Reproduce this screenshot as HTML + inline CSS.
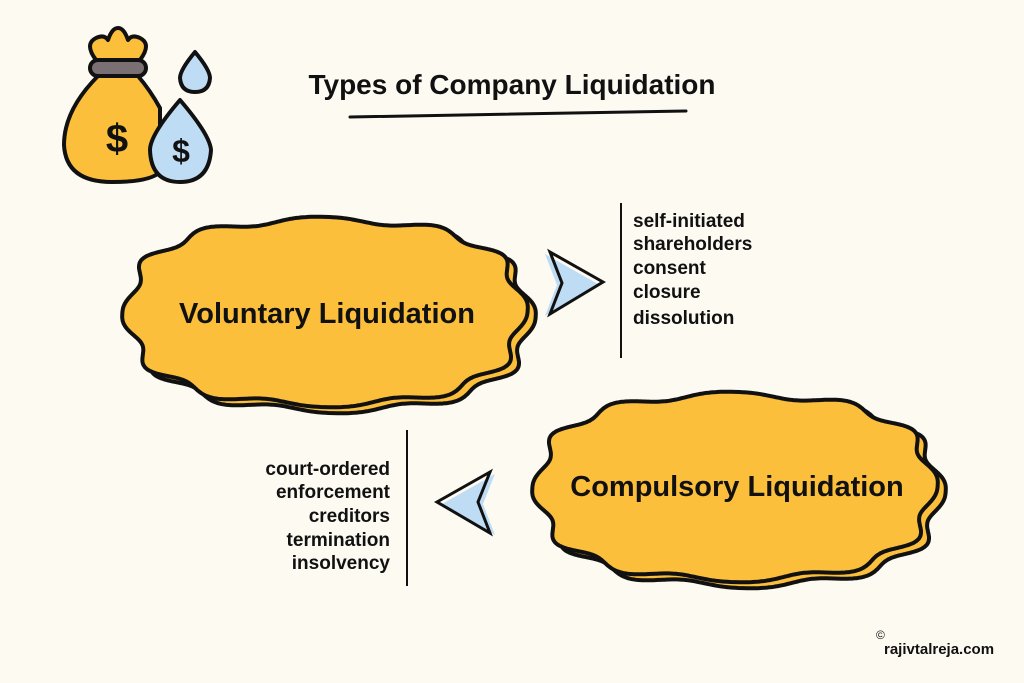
<!DOCTYPE html>
<html><head><meta charset="utf-8">
<style>
html,body{margin:0;padding:0;background:#fdfaf2;}
body{width:1024px;height:683px;position:relative;overflow:hidden;font-family:"Liberation Sans",sans-serif;}
svg{position:absolute;left:0;top:0;}
</style></head>
<body>
<svg width="1024" height="683" viewBox="0 0 1024 683" xmlns="http://www.w3.org/2000/svg">
<g stroke="#111" stroke-width="4" stroke-linejoin="round" stroke-linecap="round">
<path d="M96 60 Q84 44 96 38 Q104 34 108 40 Q112 28 118 28 Q124 28 128 40 Q132 34 140 38 Q152 44 140 60 Z" fill="#fbbf3c"/>
<rect x="90" y="60" width="56" height="16" rx="8" fill="#7a6f72"/>
<path d="M98 76 Q64 110 64 145 Q66 182 112 182 Q150 182 160 172 L160 108 Q150 90 138 76 Z" fill="#fbbf3c"/>
<path d="M195 52 Q180 70 180 78 Q181 92 195 92 Q209 92 210 78 Q210 70 195 52 Z" fill="#bfdcf5"/>
<path d="M180 100 Q150 135 150 150 Q151 182 180 182 Q209 182 211 150 Q210 135 180 100 Z" fill="#bfdcf5"/>
</g>
<text x="117" y="152" font-size="40" font-weight="bold" fill="#111" text-anchor="middle">$</text>
<text x="181" y="162" font-size="32" font-weight="bold" fill="#111" text-anchor="middle">$</text>

<text x="512" y="94" font-size="28" font-weight="bold" fill="#111" text-anchor="middle">Types of Company Liquidation</text>
<path d="M350 117 L686 111" stroke="#111" stroke-width="3" stroke-linecap="round"/>

<g id="clouds"></g>

<text x="327" y="323" font-size="29" font-weight="bold" fill="#111" text-anchor="middle">Voluntary Liquidation</text>
<text x="737" y="496" font-size="29" font-weight="bold" fill="#111" text-anchor="middle">Compulsory Liquidation</text>

<path d="M545 254 L598 284 L545 316 L557 285 Z" fill="#bfdcf5"/>
<path d="M550 252 L603 282 L550 314 L562 283 Z" fill="none" stroke="#111" stroke-width="3"/>
<path d="M495 474 L442 504 L495 535 L483 504 Z" fill="#bfdcf5"/>
<path d="M490 472 L437 502 L490 533 L478 502 Z" fill="none" stroke="#111" stroke-width="3"/>

<line x1="621" y1="203" x2="621" y2="358" stroke="#111" stroke-width="2"/>
<line x1="407" y1="430" x2="407" y2="586" stroke="#111" stroke-width="2"/>

<g font-size="19" font-weight="bold" fill="#111">
<text x="633" y="227">self-initiated</text>
<text x="633" y="250">shareholders</text>
<text x="633" y="274">consent</text>
<text x="633" y="298">closure</text>
<text x="633" y="324">dissolution</text>
<g text-anchor="end">
<text x="390" y="475">court-ordered</text>
<text x="390" y="498">enforcement</text>
<text x="390" y="522">creditors</text>
<text x="390" y="546">termination</text>
<text x="390" y="569">insolvency</text>
</g>
</g>
<text x="876" y="639" font-size="12" fill="#111">©</text>
<text x="884" y="654" font-size="15" font-weight="bold" fill="#111">rajivtalreja.com</text>
</svg>
<script>
function cloud(cx,cy,rx,ry,n,amp,ph){
  var d="";for(var i=0;i<=720;i++){var t=i/720*2*Math.PI;
  var c=Math.cos(t),s=Math.sin(t);
  var ce=Math.sign(c)*Math.pow(Math.abs(c),0.8),se=Math.sign(s)*Math.pow(Math.abs(s),0.8);
  var k=1+amp*Math.cos(n*t+ph);
  var x=cx+rx*k*ce,y=cy+ry*k*se;
  d+=(i?"L":"M")+x.toFixed(1)+" "+y.toFixed(1);}
  return d+"Z";}
var g=document.getElementById("clouds"),ns="http://www.w3.org/2000/svg";
function add(d){var p=document.createElementNS(ns,"path");p.setAttribute("d",d);p.setAttribute("fill","#fbbf3c");p.setAttribute("stroke","#111");p.setAttribute("stroke-width","4");g.appendChild(p);}
add(cloud(333,318,196,92,12,0.035,0.3));
add(cloud(325,312,196,92,12,0.035,0.3));
add(cloud(743,493,196,92,12,0.035,0.3));
add(cloud(735,487,196,92,12,0.035,0.3));
</script>
</body></html>
